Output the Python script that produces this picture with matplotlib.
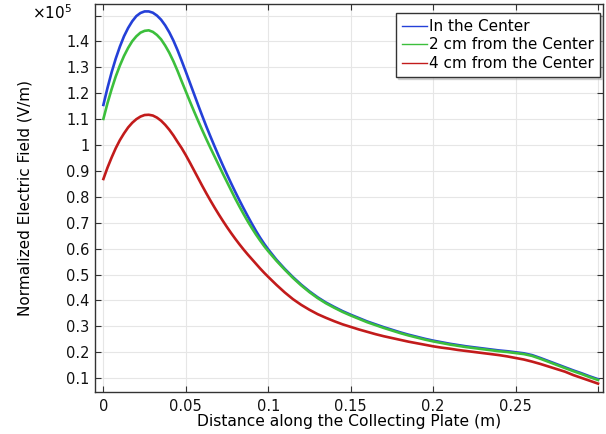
import matplotlib.pyplot as plt

# distance along the plate (m)
dist = [0, 0.0025, 0.005, 0.0075, 0.01, 0.0125, 0.015, 0.0175, 0.02, 0.0225,
        0.025, 0.0275, 0.03, 0.0325, 0.035, 0.0375, 0.04, 0.0425, 0.045, 0.0475,
        0.05, 0.0525, 0.055, 0.0575, 0.06, 0.0625, 0.065, 0.0675, 0.07, 0.0725,
        0.075, 0.0775, 0.08, 0.0825, 0.085, 0.0875, 0.09, 0.0925, 0.095, 0.0975,
        0.1, 0.105, 0.11, 0.115, 0.12, 0.125, 0.13, 0.135, 0.14, 0.145,
        0.15, 0.155, 0.16, 0.165, 0.17, 0.175, 0.18, 0.185, 0.19, 0.195,
        0.2, 0.205, 0.21, 0.215, 0.22, 0.225, 0.23, 0.235, 0.24, 0.245,
        0.25, 0.255, 0.26, 0.265, 0.27, 0.275, 0.28, 0.285, 0.29, 0.295, 0.3]

# normalized field, in units of 1e5 V/m
center = [1.155, 1.221, 1.281, 1.334, 1.380, 1.420, 1.452, 1.478, 1.498, 1.510,
          1.516, 1.516, 1.511, 1.500, 1.484, 1.462, 1.435, 1.403, 1.366, 1.325,
          1.283, 1.240, 1.197, 1.154, 1.112, 1.071, 1.032, 0.994, 0.957, 0.921,
          0.886, 0.852, 0.819, 0.787, 0.756, 0.726, 0.697, 0.669, 0.643, 0.619,
          0.597, 0.557, 0.522, 0.490, 0.461, 0.435, 0.412, 0.392, 0.375, 0.359,
          0.345, 0.332, 0.319, 0.308, 0.297, 0.287, 0.277, 0.268, 0.260, 0.252,
          0.245, 0.239, 0.233, 0.228, 0.223, 0.219, 0.215, 0.211, 0.207, 0.204,
          0.200, 0.196, 0.189, 0.178, 0.166, 0.154, 0.142, 0.130, 0.119, 0.107, 0.096]
cm2 = [1.101, 1.162, 1.216, 1.265, 1.307, 1.344, 1.375, 1.401, 1.420, 1.434,
       1.441, 1.443, 1.437, 1.425, 1.408, 1.384, 1.356, 1.323, 1.286, 1.246,
       1.207, 1.168, 1.130, 1.093, 1.057, 1.022, 0.988, 0.955, 0.922, 0.889,
       0.857, 0.825, 0.793, 0.763, 0.734, 0.706, 0.680, 0.655, 0.632, 0.610,
       0.590, 0.553, 0.519, 0.487, 0.458, 0.432, 0.409, 0.389, 0.372, 0.356,
       0.342, 0.329, 0.316, 0.305, 0.294, 0.284, 0.274, 0.265, 0.257, 0.249,
       0.242, 0.236, 0.230, 0.225, 0.220, 0.216, 0.212, 0.208, 0.204, 0.201,
       0.197, 0.193, 0.186, 0.175, 0.163, 0.151, 0.139, 0.127, 0.116, 0.104, 0.093]
cm4 = [0.869, 0.913, 0.952, 0.988, 1.019, 1.045, 1.068, 1.086, 1.100, 1.110,
       1.116, 1.117, 1.114, 1.106, 1.094, 1.078, 1.059, 1.037, 1.012, 0.988,
       0.961, 0.932, 0.902, 0.872, 0.842, 0.813, 0.785, 0.758, 0.732, 0.707,
       0.683, 0.660, 0.638, 0.617, 0.597, 0.578, 0.560, 0.542, 0.524, 0.507,
       0.491, 0.460, 0.431, 0.405, 0.383, 0.364, 0.347, 0.333, 0.320, 0.308,
       0.298, 0.288, 0.279, 0.270, 0.262, 0.255, 0.248, 0.241, 0.235, 0.229,
       0.223, 0.218, 0.214, 0.209, 0.205, 0.201, 0.197, 0.193, 0.189, 0.184,
       0.178, 0.172, 0.164, 0.155, 0.145, 0.135, 0.125, 0.112, 0.101, 0.090, 0.079]

labels = ["In the Center", "2 cm from the Center", "4 cm from the Center"]
colors = ["#2440d8", "#3cbf3c", "#c21b1b"]

fig = plt.figure(figsize=(6.06, 4.34), dpi=100)
ax = fig.add_axes([0.157, 0.097, 0.838, 0.894])

for ys, lab, c in zip([center, cm2, cm4], labels, colors):
  ax.plot(dist, ys, color=c, lw=1.9, label=lab)

ax.set_xlim(-0.005, 0.303)
ax.set_ylim(0.047, 1.545)

xt = [0, 0.05, 0.1, 0.15, 0.2, 0.25, 0.3]
ax.set_xticks(xt)
ax.set_xticklabels(["0", "0.05", "0.1", "0.15", "0.2", "0.25", ""])
yt = [0.1, 0.2, 0.3, 0.4, 0.5, 0.6, 0.7, 0.8, 0.9, 1.0, 1.1, 1.2, 1.3, 1.4, 1.5]
ax.set_yticks(yt)
ax.set_yticklabels(["0.1", "0.2", "0.3", "0.4", "0.5", "0.6", "0.7", "0.8",
                    "0.9", "1", "1.1", "1.2", "1.3", "1.4", ""])
ax.tick_params(direction='in', length=4, width=0.8, top=True, right=True,
               labelsize=10.5, colors='#333333', labelcolor='#111111')
ax.tick_params(axis='y', pad=4)
ax.tick_params(axis='x', pad=5)
ax.grid(True, color='#e6e6e6', lw=0.8)
for s in ax.spines.values():
  s.set_color('#333333')
  s.set_linewidth(1.0)

ax.set_xlabel("Distance along the Collecting Plate (m)", fontsize=11.2, labelpad=0)
ax.set_ylabel("Normalized Electric Field (V/m)", fontsize=11, labelpad=24)
fig.text(0.052, 0.956, r"$\times10^5$", fontsize=11, va='baseline')

leg = ax.legend(loc='upper right', bbox_to_anchor=(0.9945, 0.9765),
                borderaxespad=0, fontsize=11, fancybox=False,
                shadow={'ox': 1.5, 'oy': -1.5, 'shade': 0.3},
                framealpha=1, edgecolor='#333333', handlelength=1.6,
                handletextpad=0.15, labelspacing=0.22, borderpad=0.4)
for l in leg.get_lines():
  l.set_linewidth(1.0)

plt.savefig("out.png", dpi=100)
